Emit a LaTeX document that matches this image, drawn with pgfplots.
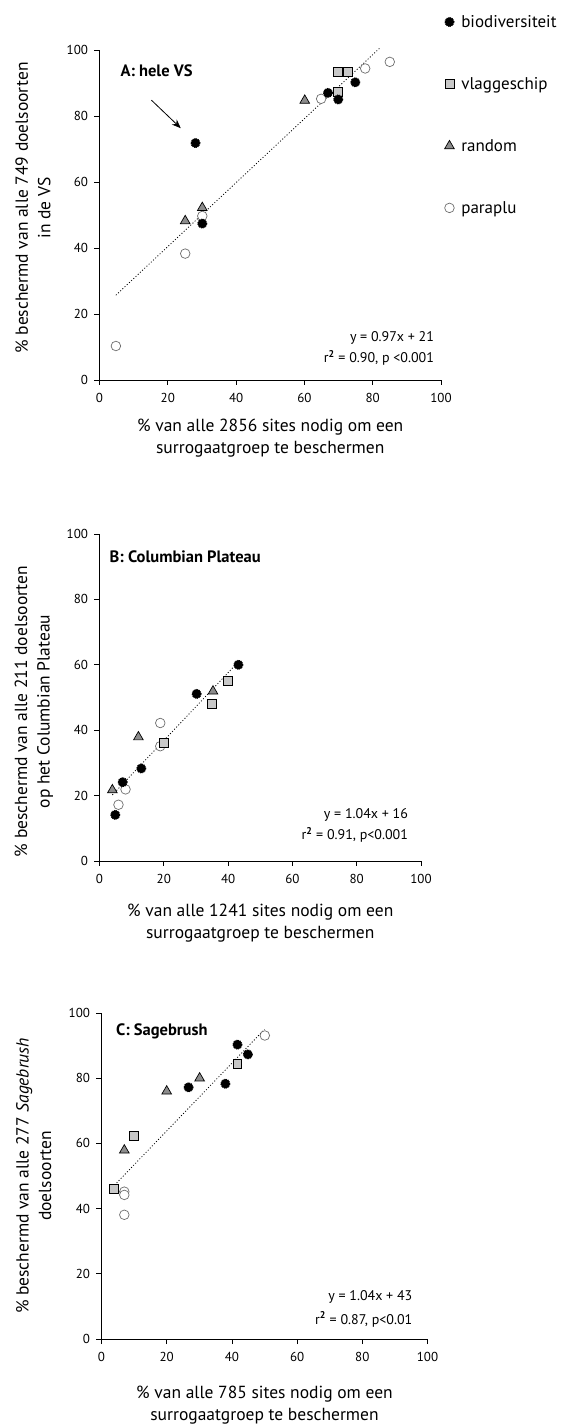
\documentclass[border=0pt]{standalone}
\usepackage{fontspec}
\setmainfont{PT Sans}
\usepackage{pgfplots}
\pgfplotsset{compat=1.18}
\usetikzlibrary{arrows.meta}
\definecolor{sqgray}{HTML}{C8C8C8}
\definecolor{trgray}{HTML}{8C8C8C}
\definecolor{cigray}{HTML}{6E6E6E}

\tikzset{
  annot/.style={anchor=east, inner sep=0pt, font=\fontsize{14}{16}\selectfont},
  ptitle/.style={anchor=west, inner sep=0pt, font=\bfseries\fontsize{16.5}{19}\selectfont},
}
\pgfplotsset{
  panel/.style={
    scale only axis, clip=false,
    axis lines=left, axis line style={-, line width=0.9pt},
    xmin=0,xmax=100,ymin=0,ymax=100,
    xtick={0,20,40,60,80,100}, ytick={0,20,40,60,80,100},
    tick align=outside, major tick length=5pt,
    every tick/.style={black, line width=0.8pt},
    tick label style={font=\fontsize{13}{15}\selectfont},
    xticklabel style={yshift=-5pt},
    yticklabel style={xshift=-3pt},
    /pgf/number format/assume math mode=true,
    xlabel style={font=\fontsize{17.5}{21.5}\selectfont, align=center, anchor=north, inner sep=0pt},
    ylabel style={font=\fontsize{17.5}{22.5}\selectfont, align=center, anchor=center, inner sep=0pt},
  },
  biod/.style={only marks, mark=*, mark size=4.6pt, mark options={fill=black, draw=black, line width=1pt, dash pattern=on 0.9pt off 0.9pt}},
  vlag/.style={only marks, mark=square*, mark size=4.4pt, mark options={fill=sqgray, draw=black, line width=0.7pt, solid}},
  rand/.style={only marks, mark=triangle*, mark size=5.6pt, mark options={fill=trgray, draw=black, line width=0.7pt, solid}},
  para/.style={only marks, mark=*, mark size=4.8pt, mark options={fill=white, draw=cigray, line width=0.7pt, solid}},
  trend/.style={black, line width=0.8pt, dash pattern=on 1pt off 2pt, forget plot},
  legend image code/.code={\draw[mark repeat=2,mark phase=2,#1] plot coordinates {(-4pt,0pt) (0pt,0pt) (4pt,0pt)};},
}

\begin{document}
\begin{tikzpicture}
\path[use as bounding box] (0,0) rectangle (569pt,1425pt);

% ---------------- Panel A ----------------
\begin{axis}[panel,
  at={(99.5pt,1045pt)}, anchor=south west, width=341.5pt, height=330pt,
  xlabel={\% van alle 2856 sites nodig om een\\surrogaatgroep te beschermen},
  ylabel={\% beschermd van alle 749 doelsoorten\\in de VS},
  xlabel style={at={([yshift=-39pt]axis description cs:0.5,0)}},
  ylabel style={at={([xshift=-66.5pt,yshift=7pt]axis description cs:0,0.5)}},
  reverse legend,
  legend style={draw=none, fill=none, at={(axis description cs:1.010,1.112)}, anchor=north west,
    font=\fontsize{17}{19}\selectfont, row sep=44.5pt, column sep=5pt, inner sep=0pt},
  legend cell align=left,
]
\addplot[trend] coordinates {(4.8,25.7) (82.1,100.6)};
\addplot[para] coordinates {(64.9,85.2) (77.8,94.4) (85,96.4) (30.1,49.7) (25.1,38.3) (4.8,10.3)};
\addplot[rand] coordinates {(60.1,84.7) (25.1,48.2) (30.1,52.2)};
\addplot[vlag] coordinates {(69.9,87.4) (69.9,93.4) (72.8,93.4)};
\addplot[biod] coordinates {(28.1,71.8) (66.9,87.0) (69.9,85.0) (74.9,90.2) (30.1,47.4)};
\legend{paraplu, random, vlaggeschip, biodiversiteit}
\node[ptitle] at (axis cs:6.1,93.6) {A: hele VS};
\draw[-{Stealth[length=9pt,width=7pt]}, line width=0.8pt] (axis cs:15.2,84.8) -- (axis cs:23.8,76.3);
\node[annot] at (axis cs:98,12.8) {y = 0.97x + 21};
\node[annot] at (axis cs:98,6.6) {r\textsuperscript{\textbf{2}} = 0.90, p <0.001};
\end{axis}

% ---------------- Panel B ----------------
\begin{axis}[panel,
  at={(99.5pt,564pt)}, anchor=south west, width=321.5pt, height=327pt,
  xlabel={\% van alle 1241 sites nodig om een\\surrogaatgroep te beschermen},
  ylabel={\% beschermd van alle 211 doelsoorten\\op het Columbian Plateau},
  xlabel style={at={([yshift=-43pt]axis description cs:0.5,0)}},
  ylabel style={at={([xshift=-65.5pt,yshift=-14pt]axis description cs:0,0.5)}},
]
\addplot[trend] coordinates {(4,20.2) (43,60.7)};
\addplot[para] coordinates {(18.9,42.2) (18.9,35.1) (8.1,21.9) (5.9,17.2)};
\addplot[rand] coordinates {(35.3,51.9) (12.1,37.9) (4.0,21.7)};
\addplot[vlag] coordinates {(40.0,55.0) (35.0,48.0) (20.0,36.1)};
\addplot[biod] coordinates {(43.2,60.0) (30.2,51.1) (13.0,28.3) (7.2,24.1) (4.9,14.1)};
\node[ptitle] at (axis cs:3.1,92.9) {B: Columbian Plateau};
\node[annot] at (axis cs:96,14.1) {y = 1.04x + 16};
\node[annot] at (axis cs:96,8.0) {r\textsuperscript{\textbf{2}} = 0.91, p<0.001};
\end{axis}

% ---------------- Panel C ----------------
\begin{axis}[panel,
  at={(101.5pt,86pt)}, anchor=south west, width=326pt, height=326pt,
  xlabel={\% van alle 785 sites nodig om een\\surrogaatgroep te beschermen},
  ylabel={\% beschermd van alle 277 \textit{Sagebrush}\\doelsoorten},
  xlabel style={at={([yshift=-47pt]axis description cs:0.5,0)}},
  ylabel style={at={([xshift=-67.7pt]axis description cs:0,0.5)}},
]
\addplot[trend] coordinates {(4,47.2) (50,95)};
\addplot[para] coordinates {(50.1,93.1) (7,45.2) (7,44.2) (7,38.1)};
\addplot[rand] coordinates {(30.1,80.0) (20.0,76.0) (7.0,57.9)};
\addplot[vlag] coordinates {(41.7,84.3) (10.0,62.3) (3.9,46.0)};
\addplot[biod] coordinates {(41.7,90.3) (44.9,87.3) (26.7,77.2) (38.0,78.3)};
\node[ptitle] at (axis cs:4.4,94.5) {C: Sagebrush};
\node[annot] at (axis cs:95.4,12.8) {y = 1.04x + 43};
\node[annot] at (axis cs:95.4,6.0) {r\textsuperscript{\textbf{2}} = 0.87, p<0.01};
\end{axis}
\end{tikzpicture}
\end{document}
